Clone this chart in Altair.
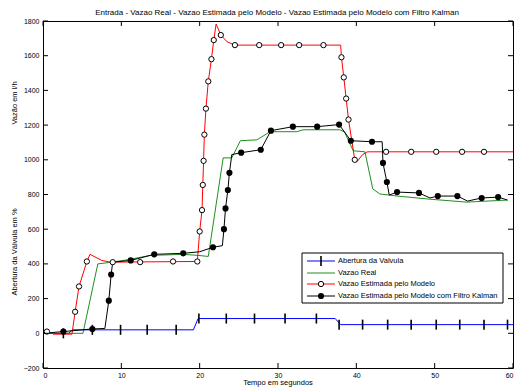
import altair as alt
import pandas as pd

# ---------------- data ----------------
# Abertura da Valvula (blue line, '+' markers)
valv_t = [0, 3.3, 3.7, 19.2, 19.8, 37.3, 38.0, 60]
valv_v = [0, 0, 20, 20, 85, 85, 50, 50]
valv_mt = [2.6, 6.3, 9.9, 13.3, 17.0, 19.9, 23.4, 27.0, 30.9, 34.9, 37.8, 40.8, 44.0, 47.0, 50.2, 53.2, 56.3, 59.3]
valv_mv = [0, 20, 20, 20, 20, 85, 85, 85, 85, 85, 50, 50, 50, 50, 50, 50, 50, 50]

# Vazao Real (green)
real_t = [2.5, 5.1, 7.0, 8.8, 11.1, 13.7, 17.9, 19.8, 21.1, 23.0, 24.1, 25.2, 27.3, 29.0, 32.4, 33.2, 37.9, 38.5, 39.6, 41.1, 42.1, 43.0, 45.2, 49.4, 54.1, 59.3]
real_v = [0, 0, 400, 410, 426, 449, 455, 449, 443, 1011, 1011, 1110, 1115, 1162, 1162, 1173, 1173, 1160, 1052, 1046, 832, 803, 791, 773, 756, 768]

# Vazao Estimada pelo Modelo (red line, open circles)
mod_t = [1.3, 3.7, 4.1, 4.6, 5.6, 6.0, 7.5, 8.6, 19.7, 20.0, 20.3, 20.4, 20.5, 20.6, 20.8, 21.1, 21.5, 21.8, 22.1, 22.7, 23.5, 24.5, 38.0, 38.1, 38.4, 38.7, 39.0, 39.8, 40.1, 40.8, 41.4, 60]
mod_v = [-5, -5, 124, 270, 414, 455, 420, 410, 414, 587, 710, 855, 994, 1145, 1295, 1452, 1580, 1690, 1783, 1719, 1680, 1661, 1661, 1591, 1475, 1353, 1232, 1000, 990, 1030, 1046, 1046]
mod_mt = [0.5, 4.1, 4.6, 5.6, 8.9, 12.4, 16.6, 19.7, 20.0, 20.3, 20.4, 20.5, 20.6, 20.8, 21.1, 21.5, 21.8, 22.7, 24.5, 27.6, 30.4, 32.7, 35.8, 38.1, 38.4, 38.7, 39.0, 39.8, 43.8, 47.0, 50.2, 53.5, 56.3]
mod_mv = [10, 124, 270, 414, 410, 410, 414, 414, 587, 710, 855, 994, 1145, 1295, 1452, 1580, 1690, 1719, 1661, 1661, 1661, 1661, 1661, 1591, 1475, 1353, 1232, 1000, 1046, 1046, 1046, 1046, 1046]

# Vazao Estimada pelo Modelo com Filtro Kalman (black line, filled dots)
kal_t = [0, 2.6, 6.3, 7.9, 8.4, 8.7, 8.9, 11.2, 14.2, 17.9, 20.0, 21.7, 22.9, 23.1, 23.3, 23.6, 23.8, 24.1, 25.3, 27.8, 29.1, 31.9, 35.0, 37.8, 39.3, 42.0, 43.3, 43.4, 43.9, 44.2, 45.2, 48.0, 49.4, 50.4, 52.9, 54.2, 56.0, 58.1, 59.3]
kal_v = [0, 10, 25, 28, 188, 339, 410, 420, 455, 461, 470, 496, 505, 600, 720, 826, 925, 1030, 1041, 1058, 1168, 1191, 1191, 1203, 1110, 1104, 1104, 982, 872, 797, 814, 809, 780, 791, 791, 762, 780, 785, 768]
kal_mt = [2.6, 6.3, 8.4, 8.7, 11.2, 14.2, 17.9, 21.7, 23.1, 23.3, 23.6, 23.8, 25.3, 27.8, 29.1, 31.9, 35.0, 37.8, 39.3, 42.0, 43.4, 43.9, 45.2, 48.0, 50.4, 52.9, 56.0, 58.1]
kal_mv = [10, 25, 188, 339, 420, 455, 461, 496, 600, 720, 826, 925, 1041, 1058, 1168, 1191, 1191, 1203, 1110, 1104, 982, 872, 814, 809, 791, 791, 780, 785]

x_ticks = [0, 10, 20, 30, 40, 50, 60]
y_ticks = [-200, 0, 200, 400, 600, 800, 1000, 1200, 1400, 1600, 1800]

title_text = "Entrada  -  Vazao Real  -  Vazao Estimada pelo Modelo   -  Vazao Estimada pelo Modelo com Filtro Kalman"
xlabel = "Tempo em segundos"
ylabel_low = "Abertura da Válvula em %"
ylabel_high = "Vazão em l/h"
legend_labels = ["Abertura da Valvula", "Vazao Real", "Vazao Estimada pelo Modelo",
                 "Vazao Estimada pelo Modelo com Filtro Kalman"]

# ---------------- layout ----------------
W, H = 470, 347
FONT = "Liberation Sans"

xs = alt.Scale(domain=[0, 60], nice=False, zero=False)
ys = alt.Scale(domain=[-200, 1800], nice=False, zero=False)

x_axis = alt.Axis(values=x_ticks, ticks=False, domain=False, grid=False, format="d",
                  labelFont=FONT, labelFontSize=7, labelColor="black",
                  labelPadding=3, title=None)
y_axis = alt.Axis(values=y_ticks, ticks=False, domain=False, grid=False, format="d",
                  labelFont=FONT, labelFontSize=7, labelColor="black",
                  labelPadding=4, title=None)


def df(t, v):
    return pd.DataFrame({"t": t, "v": v})


def X():
    return alt.X("t:Q", scale=xs, axis=x_axis)


def Y():
    return alt.Y("v:Q", scale=ys, axis=y_axis)


def line(t, v, color):
    return alt.Chart(df(t, v)).mark_line(color=color, strokeWidth=1).encode(x=X(), y=Y(), order="t:Q")


blue_line = line(valv_t, valv_v, "#0000ff")
green_line = line(real_t, real_v, "#1f8f1f")
red_line = line(mod_t, mod_v, "#ff0000")
black_line = line(kal_t, kal_v, "#000000")

blue_marks = alt.Chart(df(valv_mt, valv_mv)).mark_point(
    shape="M0,-1L0,1", stroke="black", strokeWidth=1.6, size=100, opacity=1
).encode(x=X(), y=Y())
red_marks = alt.Chart(df(mod_mt, mod_mv)).mark_point(
    shape="circle", fill="white", stroke="black", strokeWidth=1, size=28, opacity=1, fillOpacity=1
).encode(x=X(), y=Y())
black_marks = alt.Chart(df(kal_mt, kal_mv)).mark_point(
    shape="circle", filled=True, color="black", size=38, opacity=1
).encode(x=X(), y=Y())

# inner ticks (MATLAB style, pointing inward on all four sides)
tx = pd.DataFrame({"t": x_ticks})
ty = pd.DataFrame({"v": y_ticks})
TL = 5
ticks_bottom = alt.Chart(tx).mark_rule(color="black", strokeWidth=1).encode(
    x=X(), y=alt.value(H), y2=alt.value(H - TL))
ticks_top = alt.Chart(tx).mark_rule(color="black", strokeWidth=1).encode(
    x=X(), y=alt.value(0), y2=alt.value(TL))
ticks_left = alt.Chart(ty).mark_rule(color="black", strokeWidth=1).encode(
    y=Y(), x=alt.value(0), x2=alt.value(TL))
ticks_right = alt.Chart(ty).mark_rule(color="black", strokeWidth=1).encode(
    y=Y(), x=alt.value(W), x2=alt.value(W - TL))

one = pd.DataFrame({"a": [0]})


def txt(s, x, y, size=7, angle=0, align="center"):
    return alt.Chart(one).mark_text(text=s, font=FONT, fontSize=size, color="black", angle=angle,
                                    align=align, baseline="middle").encode(x=alt.value(x), y=alt.value(y))


title_mark = txt(title_text, 234, -8, size=8)
xlabel_mark = txt(xlabel, 235, 362, size=7.5)
ylab1 = txt(ylabel_high, -28, 82, size=7.5, angle=270)
ylab2 = txt(ylabel_low, -28, 231, size=7.5, angle=270)

# legend
LX0, LX1, LY0, LY1 = 259, 460, 232, 282
rows = [240, 252, 263, 275]
sx0, sx1, sxm, tx0 = 264, 292, 278, 295
leg_box = alt.Chart(one).mark_rect(fill="white", stroke="black", strokeWidth=1).encode(
    x=alt.value(LX0), x2=alt.value(LX1), y=alt.value(LY0), y2=alt.value(LY1))
leg_layers = [leg_box]
colors = ["#0000ff", "#1f8f1f", "#ff0000", "#000000"]
for i, (lab, col) in enumerate(zip(legend_labels, colors)):
    leg_layers.append(alt.Chart(one).mark_rule(color=col, strokeWidth=1).encode(
        x=alt.value(sx0), x2=alt.value(sx1), y=alt.value(rows[i])))
    leg_layers.append(txt(lab, tx0, rows[i], size=7.5, align="left"))
leg_layers.append(alt.Chart(one).mark_point(shape="M0,-1L0,1", stroke="black", strokeWidth=1.6, size=100,
                                            opacity=1).encode(x=alt.value(sxm), y=alt.value(rows[0])))
leg_layers.append(alt.Chart(one).mark_point(shape="circle", fill="white", stroke="black", strokeWidth=1,
                                            size=28, opacity=1, fillOpacity=1).encode(
    x=alt.value(sxm), y=alt.value(rows[2])))
leg_layers.append(alt.Chart(one).mark_point(shape="circle", filled=True, color="black", size=38,
                                            opacity=1).encode(x=alt.value(sxm), y=alt.value(rows[3])))

chart = alt.layer(
    blue_line, green_line, red_line, black_line,
    blue_marks, red_marks, black_marks,
    ticks_bottom, ticks_top, ticks_left, ticks_right,
    title_mark, xlabel_mark, ylab1, ylab2,
    *leg_layers
).properties(
    width=W, height=H,
    autosize=alt.AutoSizeParams(type="none"),
    padding={"left": 43, "top": 21, "right": 2, "bottom": 22},
    background="white",
).configure_view(stroke="black", strokeWidth=1)

chart.save("out.html", embed_options={"renderer": "svg", "actions": False})
